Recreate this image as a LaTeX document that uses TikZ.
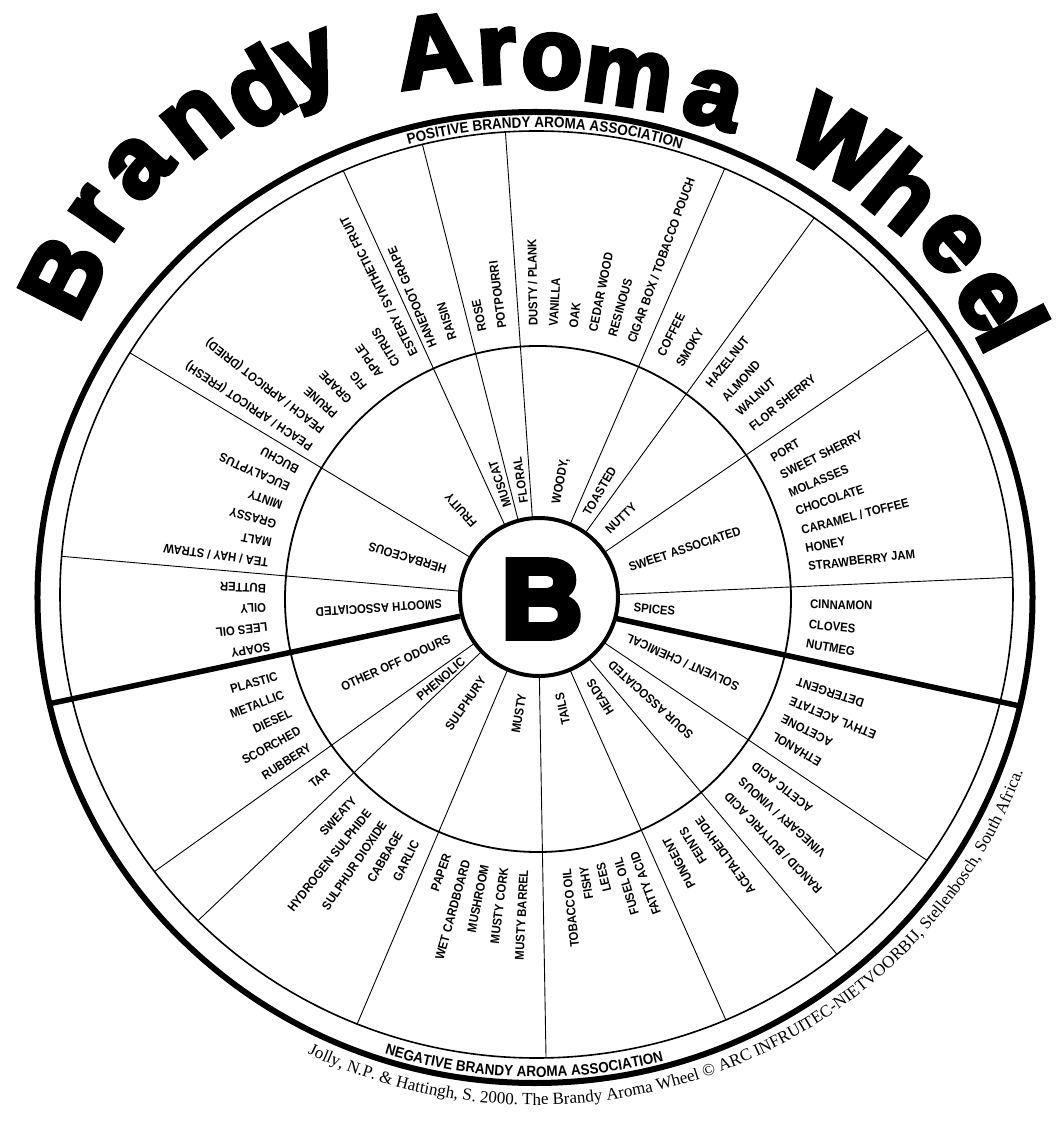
\documentclass[tikz,border=0pt]{standalone}
\usepackage{fontspec}
\setmainfont{Liberation Sans}
\newfontfamily\labfont[FakeStretch=0.9]{Liberation Sans}
\newfontfamily\citefont{Liberation Serif}
\newfontfamily\heavyfont[BoldFeatures={FakeBold=4.5}]{Liberation Sans}
\newfontfamily\bfont[BoldFeatures={FakeBold=6}]{Liberation Sans}
\usetikzlibrary{decorations.text}
\newcommand\posout[3]{\node[lab,anchor=west,rotate=#2] (#1) at (#2:272) {#3};}
\newcommand\negout[3]{\node[lab,anchor=east,rotate=#2-180] (#1) at (#2:272) {#3};}
\newcommand\posin[3]{\node[lab,anchor=west,rotate=#2] (#1) at (#2:96) {#3};}
\newcommand\negin[3]{\node[lab,anchor=east,rotate=#2-180] (#1) at (#2:97) {#3};}
\begin{document}
\begin{tikzpicture}[x=1pt,y=1pt,
  lab/.style={font=\labfont\bfseries\fontsize{12.6}{13}\selectfont, inner sep=0pt, text height=9pt, text depth=0pt},
  ttl/.style={font=\heavyfont\bfseries\fontsize{100}{100}\selectfont, inner sep=0pt, anchor=base},
  thinline/.style={line width=0.9pt},
  divider/.style={line width=5.5pt}]
\useasboundingbox (-538,-526) rectangle (526,598);
\fill[white] (-538,-526) rectangle (526,598);
% radial lines
\begin{scope}
\clip (-1.5,3.5) ellipse [x radius=476.5, y radius=463.5];
\foreach \a in {2.5,34.5,54,66.5,94,104.3,114.5,149,175,215.5,223.5,247,271,294,310,326}
  \draw[thinline] (\a:79) -- (\a:540);
\end{scope}
\begin{scope}
\clip (-3,0.5) ellipse [x radius=497.5, y radius=485.5];
\draw[divider] (193.2:80) -- (192.2:540);
\draw[divider] (-14.7:80) -- (-12.6:540);
\end{scope}
% circles
\draw[line width=1.8pt] (0,-1) circle[radius=253];
\draw[line width=1.6pt] (-1.5,3.5) ellipse[x radius=476.5, y radius=463.5];
\draw[line width=6pt] (-3,0.5) ellipse[x radius=497.5, y radius=485.5];
\draw[line width=4pt, fill=white] (1,1) circle[radius=79];
\node[font=\bfont\bfseries\fontsize{112}{112}\selectfont, inner sep=0pt] (bb) at (4,-1) {B};
% inner labels
\posin{i1}{-5.5}{SPICES}
\posin{i2}{18.5}{SWEET ASSOCIATED}
\posin{i3}{44}{NUTTY}
\posin{i4}{60}{TOASTED}
\posin{i5}{79.5}{WOODY,}
\posin{i6}{98.5}{FLORAL}
\posin{i7}{108.5}{MUSCAT}
\posin{i8}{131.5}{FRUITY}
\posin{i9}{163}{HERBACEOUS}
\posin{i10}{183.7}{SMOOTH ASSOCIATED}
\negin{i11}{204.5}{OTHER OFF ODOURS}
\negin{i12}{219.8}{PHENOLIC}
\negin{i13}{235.5}{SULPHURY}
\negin{i14}{260.5}{MUSTY}
\negin{i15}{282.5}{TAILS}
\negin{i16}{302}{HEADS}
\negin{i17}{317.8}{SOUR ASSOCIATED}
\negin{i18}{336}{SOLVENT / CHEMICAL}
% outer labels positive
\posout{o1}{-1.3}{CINNAMON}
\posout{o2}{-5.5}{CLOVES}
\posout{o3}{-9.6}{NUTMEG}
\posout{o4}{30.9}{PORT}
\posout{o5}{26.8}{SWEET SHERRY}
\posout{o6}{22.7}{MOLASSES}
\posout{o7}{18.6}{CHOCOLATE}
\posout{o8}{14.5}{CARAMEL / TOFFEE}
\posout{o9}{10.5}{HONEY}
\posout{o10}{6.7}{STRAWBERRY JAM}
\posout{o11}{51.3}{HAZELNUT}
\posout{o12}{46.9}{ALMOND}
\posout{o13}{42.8}{WALNUT}
\posout{o14}{38.6}{FLOR SHERRY}
\posout{o15}{63.2}{COFFEE}
\posout{o16}{58.8}{SMOKY}
\posout{o17}{91}{DUSTY / PLANK}
\posout{o18}{86.8}{VANILLA}
\posout{o19}{82.6}{OAK}
\posout{o20}{78.4}{CEDAR WOOD}
\posout{o21}{74.2}{RESINOUS}
\posout{o22}{70}{CIGAR BOX / TOBACCO POUCH}
\posout{o23}{101.8}{ROSE}
\posout{o24}{97.6}{POTPOURRI}
\posout{o25}{112.7}{HANEPOOT GRAPE}
\posout{o26}{108.3}{RAISIN}
\posout{o27}{117.1}{ESTERY / SYNTHETIC FRUIT}
\posout{o28}{121.3}{CITRUS}
\posout{o29}{125.5}{APPLE}
\posout{o30}{129.7}{FIG}
\posout{o31}{133.9}{GRAPE}
\posout{o32}{138.1}{PRUNE}
\posout{o33}{142.3}{PEACH / APRICOT (DRIED)}
\posout{o34}{146.5}{PEACH / APRICOT (FRESH)}
\posout{o35}{152}{BUCHU}
\posout{o36}{156.1}{EUCALYPTUS}
\posout{o37}{160.2}{MINTY}
\posout{o38}{164.3}{GRASSY}
\posout{o39}{168.4}{MALT}
\posout{o40}{172.5}{TEA / HAY / STRAW}
\posout{o41}{178}{BUTTER}
\posout{o42}{182.1}{OILY}
\posout{o43}{186.2}{LEES OIL}
\posout{o44}{190.3}{SOAPY}
% outer labels negative
\negout{o45}{196.6}{PLASTIC}
\negout{o46}{200.7}{METALLIC}
\negout{o47}{204.8}{DIESEL}
\negout{o48}{208.9}{SCORCHED}
\negout{o49}{213}{RUBBERY}
\negout{o50}{219.5}{TAR}
\negout{o51}{227.5}{SWEATY}
\negout{o52}{231.5}{HYDROGEN SULPHIDE}
\negout{o53}{235.5}{SULPHUR DIOXIDE}
\negout{o54}{239.4}{CABBAGE}
\negout{o55}{243.3}{GARLIC}
\negout{o56}{250.5}{PAPER}
\negout{o57}{254.7}{WET CARDBOARD}
\negout{o58}{258.7}{MUSHROOM}
\negout{o59}{262.8}{MUSTY CORK}
\negout{o60}{267}{MUSTY BARREL}
\negout{o61}{276}{TOBACCO OIL}
\negout{o62}{279.6}{FISHY}
\negout{o63}{283.2}{LEES}
\negout{o64}{287}{FUSEL OIL}
\negout{o65}{290.6}{FATTY ACID}
\negout{o66}{298}{PUNGENT}
\negout{o67}{302}{FEINTS}
\negout{o68}{306}{ACETALDEHYDE}
\negout{o69}{313.8}{RANCID / BUTYRIC ACID}
\negout{o70}{318}{VINEGARY / VINOUS}
\negout{o71}{322.2}{ACETIC ACID}
\negout{o72}{329.6}{ETHANOL}
\negout{o73}{333.7}{ACETONE}
\negout{o74}{337.8}{ETHYL ACETATE}
\negout{o75}{342}{DETERGENT}
% band texts
\path[decorate, decoration={text along path, text align=center,
  text={|\labfont\bfseries\fontsize{15}{15}\selectfont|POSITIVE BRANDY AROMA ASSOCIATION}}]
  (-1.5,3.5) ++(125:480 and 467) arc[start angle=125, end angle=53, x radius=480, y radius=467];
\path[decorate, decoration={text along path, text align=center,
  text={|\labfont\bfseries\fontsize{15}{15}\selectfont|NEGATIVE BRANDY AROMA ASSOCIATION}}]
  (-1.5,3.5) ++(240:496 and 482.5) arc[start angle=240, end angle=297, x radius=496, y radius=482.5];
% citation
\path[decorate, decoration={text along path, text align=center,
  text={|\citefont\fontsize{17}{17}\selectfont|Jolly, N.P. {\&} Hattingh, S. 2000. The Brandy Aroma Wheel © ARC INFRUITEC-NIETVOORBIJ, Stellenbosch, South Africa.}}]
  (-3,0.5) ++(242:519.5 and 507.5) arc[start angle=242, end angle=342, x radius=519.5, y radius=507.5];
% title
\node[ttl, rotate=63] (t1) at (-444,306) {B};
\node[ttl, rotate=55] (t2) at (-417,368) {r};
\node[ttl, rotate=48] (t3) at (-380,413) {a};
\node[ttl, rotate=38] (t4) at (-325,455) {n};
\node[ttl, rotate=30] (t5) at (-263,480) {d};
\node[ttl, rotate=22] (t6) at (-219,510) {y};
\node[ttl, rotate=8] (t7) at (-101.1,513.3) {A};
\node[ttl, rotate=3] (t8) at (-40,515) {r};
\node[ttl, rotate=-2] (t9) at (13,510) {o};
\node[ttl, rotate=-8] (t10) at (86,493) {m};
\node[ttl, rotate=-15] (t11) at (168,473) {a};
\node[ttl, rotate=-30] (t12) at (286,424) {W};
\node[ttl, rotate=-39] (t13) at (344,379) {h};
\node[ttl, rotate=-48] (t14) at (394,337) {e};
\node[ttl, rotate=-56] (t15) at (428,282) {e};
\node[ttl, rotate=-63] (t16) at (443,253) {l};
\end{tikzpicture}
\end{document}
